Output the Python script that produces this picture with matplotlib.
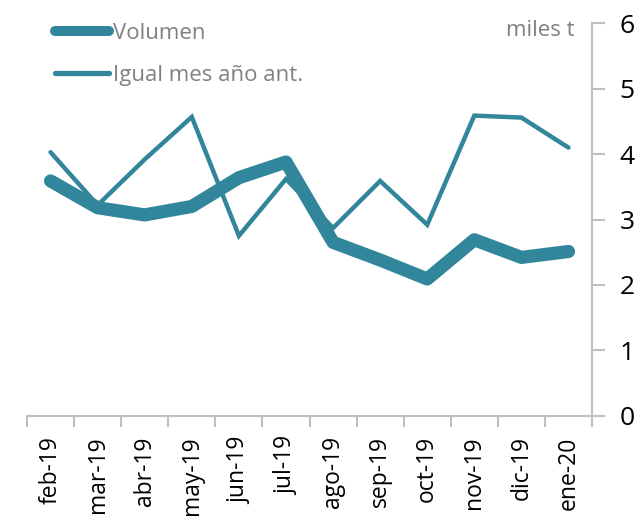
import matplotlib.pyplot as plt
from matplotlib.lines import Line2D
from matplotlib.ticker import FixedLocator

months = ['feb-19', 'mar-19', 'abr-19', 'may-19', 'jun-19', 'jul-19',
          'ago-19', 'sep-19', 'oct-19', 'nov-19', 'dic-19', 'ene-20']
volumen = [3.59, 3.18, 3.07, 3.20, 3.64, 3.88, 2.65, 2.38, 2.09, 2.69, 2.42, 2.51]
igual_mes_ant = [4.03, 3.22, 3.92, 4.57, 2.75, 3.62, 2.87, 3.59, 2.92, 4.59, 4.56, 4.10]

teal = '#31869B'
grey = '#BFBFBF'
plt.rcParams['font.family'] = ['Open Sans', 'DejaVu Sans']

fig = plt.figure(figsize=(6.37, 5.22), dpi=100)
ax = fig.add_axes([0.0424, 0.204, 0.887, 0.751])

x = list(range(len(months)))
ax.plot(x, volumen, color=teal, lw=9.5, solid_capstyle='round',
        solid_joinstyle='round')
ax.plot(x, igual_mes_ant, color=teal, lw=3.2, solid_capstyle='round',
        solid_joinstyle='miter')

ax.set_xlim(-0.5, len(months) - 0.5)
ax.set_ylim(0, 6)

# y axis on the right
ax.yaxis.tick_right()
ax.set_yticks(range(0, 7))
ax.tick_params(axis='y', which='major', length=9, width=1.5, color=grey,
               labelsize=19, pad=11, labelcolor='black')

# category labels centred, tick marks on the boundaries
ax.set_xticks(x)
ax.set_xticklabels(months, rotation=90)
ax.xaxis.set_minor_locator(FixedLocator([i - 0.5 for i in range(len(months) + 1)]))
ax.tick_params(axis='x', which='major', length=0, labelsize=16.5, pad=15)
ax.tick_params(axis='x', which='minor', length=8, width=1.5, color=grey)

for side in ['top', 'left']:
    ax.spines[side].set_visible(False)
for side in ['bottom', 'right']:
    ax.spines[side].set_color(grey)
    ax.spines[side].set_linewidth(1.5)

ax.text(0.97, 0.981, 'miles t', transform=ax.transAxes, ha='right', va='center',
        fontsize=16, color='#808080')

handles = [Line2D([], [], color=teal, lw=7.2, solid_capstyle='round'),
           Line2D([], [], color=teal, lw=3.8, solid_capstyle='round')]
leg = ax.legend(handles, ['Volumen', 'Igual mes año ant.'], loc='upper left',
                bbox_to_anchor=(0.015, 1.053), frameon=False,
                handlelength=2.4, handletextpad=0.2, labelspacing=0.95,
                fontsize=16)
for t in leg.get_texts():
    t.set_color('#808080')

fig.savefig('out.png', dpi=100)
